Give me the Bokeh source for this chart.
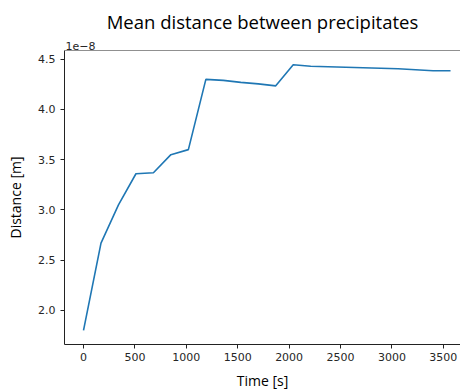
from bokeh.plotting import figure
from bokeh.models import (Range1d, FixedTicker, CustomJSTickFormatter, Title, Span)
from bokeh.embed import file_html
from bokeh.resources import INLINE

# Data (time in s, distance in m)
time_s = [0, 170, 340, 510, 680, 850, 1020, 1190, 1360, 1530, 1700, 1870,
          2040, 2210, 2380, 2550, 2720, 2890, 3060, 3230, 3400, 3570]
distance_m = [1.80e-8, 2.67e-8, 3.05e-8, 3.36e-8, 3.37e-8, 3.55e-8, 3.60e-8,
              4.30e-8, 4.29e-8, 4.27e-8, 4.255e-8, 4.235e-8,
              4.445e-8, 4.43e-8, 4.425e-8, 4.42e-8, 4.415e-8, 4.41e-8,
              4.405e-8, 4.395e-8, 4.385e-8, 4.385e-8]
x_ticks = [0, 500, 1000, 1500, 2000, 2500, 3000, 3500]
y_ticks = [2.0e-8, 2.5e-8, 3.0e-8, 3.5e-8, 4.0e-8, 4.5e-8]

TICK_FONT = "DejaVu Sans"
LABEL_FONT = "Open Sans"
Y_TOP = 4.587e-8

p = figure(width=460, height=392, output_backend="svg", toolbar_location=None,
           x_range=Range1d(-185, 3667), y_range=Range1d(1.66e-8, Y_TOP),
           min_border_left=64, min_border_right=0, min_border_top=50, min_border_bottom=40)

p.title.text = "Mean distance between precipitates"
p.title.text_font = LABEL_FONT
p.title.text_font_size = "18.5px"
p.title.text_font_style = "normal"
p.title.text_color = "#000000"
p.title.align = "center"
p.title.standoff = 10

# offset label "1e-8" placed right above the frame
p.add_layout(Title(text="1e\u22128", text_font=TICK_FONT, text_font_size="11px",
                   text_font_style="normal", text_color="#262626", align="left",
                   offset=1, standoff=2), "above")

p.line(time_s, distance_m, line_color="#1f77b4", line_width=1.6)

p.grid.visible = False
p.outline_line_color = None
p.background_fill_color = "white"
p.border_fill_color = "white"

# top spine (the right spine lies outside the picture in the reference)
p.add_layout(Span(location=Y_TOP, dimension="width", line_color="#222222", line_width=1))

for ax in (p.xaxis[0], p.yaxis[0]):
    ax.axis_line_color = "#222222"
    ax.axis_line_width = 1
    ax.major_tick_line_color = "#222222"
    ax.major_tick_out = 4
    ax.major_tick_in = 0
    ax.minor_tick_line_color = None
    ax.major_label_text_font = TICK_FONT
    ax.major_label_text_font_size = "11px"
    ax.major_label_text_color = "#262626"
    ax.axis_label_text_font = LABEL_FONT
    ax.axis_label_text_font_size = "14px"
    ax.axis_label_text_font_style = "normal"
    ax.axis_label_text_color = "#000000"

p.xaxis[0].ticker = FixedTicker(ticks=x_ticks)
p.xaxis[0].axis_label = "Time [s]"
p.xaxis[0].major_label_standoff = 4
p.xaxis[0].axis_label_standoff = 7

p.yaxis[0].ticker = FixedTicker(ticks=y_ticks)
p.yaxis[0].formatter = CustomJSTickFormatter(code="return (tick*1e8).toFixed(1);")
p.yaxis[0].axis_label = "Distance [m]"
p.yaxis[0].major_label_standoff = 5
p.yaxis[0].axis_label_standoff = 10

open("out.html", "w").write(file_html(p, INLINE))
